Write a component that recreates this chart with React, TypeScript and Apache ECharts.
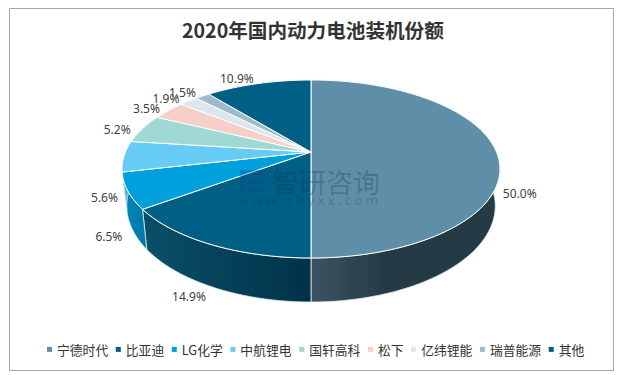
import React, { useEffect, useRef } from "react";
import * as echarts from "echarts";

const categories = ["宁德时代", "比亚迪", "LG化学", "中航锂电", "国轩高科", "松下", "亿纬锂能", "瑞普能源", "其他"];
const shares = [50.0, 14.9, 6.5, 5.6, 5.2, 3.5, 1.9, 1.5, 10.9];
const topColors = ["#5f8fa8", "#005f85", "#00a0dc", "#66ccf5", "#a0d8d4", "#f6d0c8", "#dde6ec", "#9dbccb", "#005f85"];
const wallStops = [
  ["#3c5462", "#243a44"], ["#0a5068", "#00324a"], ["#0088bb", "#0076a6"], ["#55b0d4", "#55b0d4"],
  ["#88bcb8", "#88bcb8"], ["#d4b2aa", "#d4b2aa"], ["#c0c8ce", "#c0c8ce"], ["#86a2ae", "#86a2ae"], ["#005070", "#005070"],
];
const labelNudge = [1, -9, 3, 3, -5, -5, -8, -7, -15];

const CX = 311, APEX_Y = 152, A = 185.5, B = 85.75, P = 0.191, WALL = 35.6;
const total = shares.reduce((s, v) => s + v, 0);

function rim(deg: number, r = 1) {
  const t = (deg * Math.PI) / 180, u = Math.sin(t), v = Math.cos(t), w = 1 + P * v;
  return { x: CX + (r * A * u) / w, y: APEX_Y - (r * B * v) / w, w, v };
}
function bottom(deg: number) {
  const p = rim(deg);
  return [CX + (p.x - CX) * 0.975, p.y + WALL / p.w];
}

function renderSlice(i: number) {
  const before = shares.slice(0, i).reduce((s, v) => s + v, 0);
  const a0 = (before / total) * 360, a1 = ((before + shares[i]) / total) * 360;
  const steps = Math.max(4, Math.ceil((a1 - a0) / 2));
  const arc: number[] = [];
  for (let k = 0; k <= steps; k++) arc.push(a0 + ((a1 - a0) * k) / steps);
  const top = arc.map((d) => { const p = rim(d); return [p.x, p.y]; });
  const bot = arc.map(bottom);
  const xs = top.concat(bot).map((p) => p[0]);
  const mid = (a0 + a1) / 2, lp = rim(mid, 1.12);
  const lx = lp.x + labelNudge[i], ly = lp.y + (lp.v <= 0.001 ? 41 : 3);
  const grad = new echarts.graphic.LinearGradient(Math.min(...xs), 0, Math.max(...xs), 0, [
    { offset: 0, color: wallStops[i][0] }, { offset: i === 0 ? 0.4 : 1, color: wallStops[i][1] }, { offset: 1, color: wallStops[i][1] },
  ], true);
  return {
    type: "group",
    children: [
      {
        type: "polygon", z2: 1, silent: true,
        shape: { points: top.concat(bot.slice().reverse()) },
        style: { fill: grad, stroke: "#dfe8ec", lineWidth: 0.8 },
      },
      {
        type: "polygon", z2: 5, silent: true,
        shape: { points: [[CX, APEX_Y], ...top] },
        style: { fill: topColors[i], stroke: "#ffffff", lineWidth: 1 },
      },
      {
        type: "text", z2: 8, silent: true, x: lx, y: ly,
        style: {
          text: shares[i].toFixed(1) + "%", fill: "#404040", fontSize: 12,
          fontFamily: "'Noto Sans', sans-serif", align: "center", verticalAlign: "middle",
        },
      },
    ],
  };
}

const logoBlue = "rgba(0,80,150,0.34)";
const markFill = "rgba(20,50,80,0.28)";

export default function App() {
  const ref = useRef<HTMLDivElement>(null);
  useEffect(() => {
    document.body.style.margin = "0";
    const chart = echarts.init(ref.current!, undefined, { renderer: "svg" });
    chart.setOption({
      animation: false,
      color: topColors,
      backgroundColor: "#ffffff",
      title: {
        text: "2020年国内动力电池装机份额", left: 177, top: 15,
        textStyle: { fontSize: 19.6, fontWeight: "bold", color: "#333333", fontFamily: "'Noto Sans CJK SC', sans-serif" },
      },
      legend: {
        left: 42, top: 338, icon: "rect", itemWidth: 5, itemHeight: 5, itemGap: 7.6, selectedMode: false,
        textStyle: { fontSize: 12.8, color: "#333333", fontFamily: "'Noto Sans CJK SC', sans-serif" },
        data: categories,
      },
      series: categories.map((name, i) => ({
        type: "custom", name, coordinateSystem: "none", silent: true,
        itemStyle: { color: topColors[i] },
        data: [[shares[i]]],
        renderItem: () => renderSlice(i),
      })),
      graphic: [
        { type: "rect", z: 100, silent: true, shape: { x: 9.5, y: 8.5, width: 604, height: 362 }, style: { fill: "none", stroke: "#a6a6a6", lineWidth: 1 } },
        { type: "rect", z: 100, silent: true, shape: { x: 240, y: 170, width: 23, height: 5 }, style: { fill: logoBlue } },
        { type: "rect", z: 100, silent: true, shape: { x: 240, y: 175, width: 6, height: 17 }, style: { fill: logoBlue } },
        { type: "rect", z: 100, silent: true, shape: { x: 250, y: 180, width: 13, height: 4 }, style: { fill: logoBlue } },
        { type: "rect", z: 100, silent: true, shape: { x: 248, y: 187, width: 15, height: 5 }, style: { fill: logoBlue } },
        { type: "text", z: 100, silent: true, x: 272, y: 181, style: { text: "智研咨询", fontSize: 27, fill: markFill, fontFamily: "'Noto Sans CJK SC', sans-serif", align: "left", verticalAlign: "middle" } },
        { type: "text", z: 100, silent: true, x: 239, y: 200, style: { text: "w w w . c h y x x . c o m", fontSize: 13, fill: markFill, fontFamily: "'Noto Sans', sans-serif", align: "left", verticalAlign: "middle" } },
      ],
    });
    return () => chart.dispose();
  }, []);
  return <div ref={ref} style={{ position: "absolute", left: 0, top: 0, width: 618, height: 375 }} />;
}
